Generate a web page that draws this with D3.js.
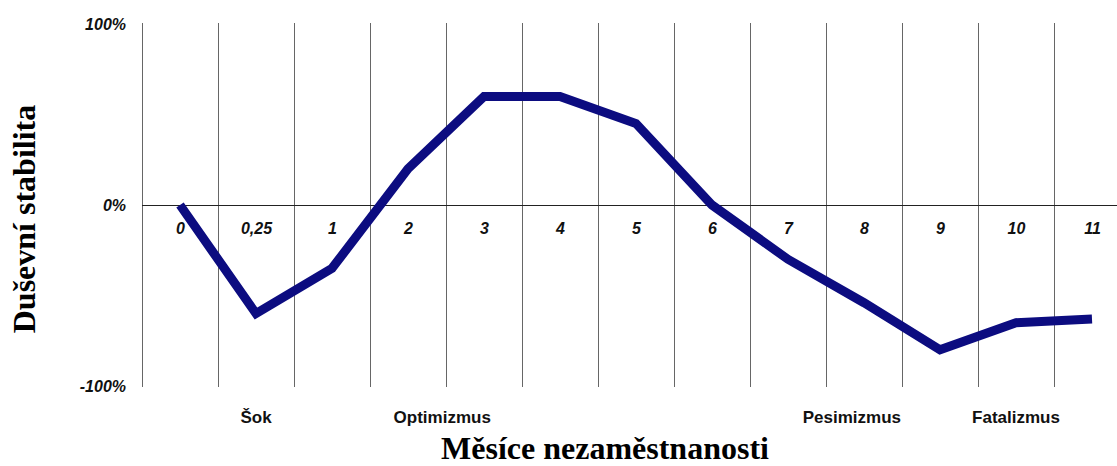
<!DOCTYPE html>
<html>
<head>
<meta charset="utf-8">
<script src="https://cdn.jsdelivr.net/npm/d3@7"></script>
<style>
  body { margin: 0; background: #fff; }
  .tick-label { font-family: "Liberation Sans", Arial, sans-serif; font-weight: bold; font-style: italic; font-size: 16px; fill: #111; }
  .phase { font-family: "Liberation Sans", Arial, sans-serif; font-weight: bold; font-size: 17px; fill: #111; }
  .axis-title { font-family: "Liberation Serif", "Times New Roman", serif; font-weight: bold; font-size: 32px; fill: #000; }
</style>
</head>
<body>
<div id="chart"></div>
<script>
// month categories on the x axis
var months = ["0", "0,25", "1", "2", "3", "4", "5", "6", "7", "8", "9", "10", "11"];
// mental stability in %
var stability = [0, -60, -35, 20, 60, 60, 45, 0, -30, -54, -80, -65, -63];
// y tick values
var yTicks = [-100, 0, 100];
// phase labels and where they sit (in month index units)
var phaseNames = ["Šok", "Optimizmus", "Pesimizmus", "Fatalizmus"];
var phaseAt = [1, 3.45, 8.84, 11];

var svgWidth = 1117;
var svgHeight = 466;

var svg = d3.select("#chart")
            .append("svg")
            .attr("width", svgWidth)
            .attr("height", svgHeight);

// index scale: each month gets a column 76px wide, first column starts at 142
var x = d3.scaleLinear()
    .domain([-0.5, months.length - 0.5])
    .range([142, 1130]);

var y = d3.scaleLinear()
    .domain([-100, 100])
    .range([386, 24]);

// vertical column separators
svg.append("g")
    .selectAll("line")
    .data(months)
    .enter()
    .append("line")
    .attr("x1", (d, i) => Math.round(x(i - 0.5)) + 0.5)
    .attr("x2", (d, i) => Math.round(x(i - 0.5)) + 0.5)
    .attr("y1", y(100) - 1)
    .attr("y2", y(-100) + 1)
    .attr("stroke", "#666")
    .attr("stroke-width", 1);

// zero line
svg.append("line")
    .attr("x1", x(-0.5))
    .attr("x2", svgWidth)
    .attr("y1", Math.round(y(0)) + 0.5)
    .attr("y2", Math.round(y(0)) + 0.5)
    .attr("stroke", "#222")
    .attr("stroke-width", 1);

// y axis labels
var leftAxis = d3.axisLeft(y)
    .tickValues(yTicks)
    .tickSize(0)
    .tickPadding(16)
    .tickFormat(d => d + "%");

var yAxisG = svg.append("g")
    .attr("transform", `translate(${x(-0.5)},0)`)
    .call(leftAxis);
yAxisG.select(".domain").remove();
yAxisG.selectAll("text").attr("class", "tick-label").attr("font-size", null).attr("font-family", null);

// x axis labels, centered in each column below the zero line
var bottomAxis = d3.axisBottom(d3.scalePoint().domain(months).range([x(0), x(months.length - 1)]))
    .tickSize(0)
    .tickPadding(18);

var xAxisG = svg.append("g")
    .attr("transform", `translate(0,${y(0)})`)
    .call(bottomAxis);
xAxisG.select(".domain").remove();
xAxisG.selectAll("text").attr("class", "tick-label").attr("font-size", null).attr("font-family", null);

// the curve
var line = d3.line()
    .x((d, i) => x(i))
    .y(d => y(d));

svg.append("path")
    .datum(stability)
    .attr("d", line)
    .attr("fill", "none")
    .attr("stroke", "#0c0c80")
    .attr("stroke-width", 9);

// phase labels
svg.append("g")
    .selectAll("text")
    .data(phaseNames)
    .enter()
    .append("text")
    .attr("class", "phase")
    .attr("x", (d, i) => x(phaseAt[i]))
    .attr("y", 423)
    .attr("text-anchor", "middle")
    .text(d => d);

// axis titles
svg.append("text")
    .attr("class", "axis-title")
    .attr("transform", `translate(35, 219) rotate(-90)`)
    .attr("text-anchor", "middle")
    .text("Duševní stabilita");

svg.append("text")
    .attr("class", "axis-title")
    .attr("x", 605)
    .attr("y", 459)
    .attr("text-anchor", "middle")
    .text("Měsíce nezaměstnanosti");
</script>
</body>
</html>
